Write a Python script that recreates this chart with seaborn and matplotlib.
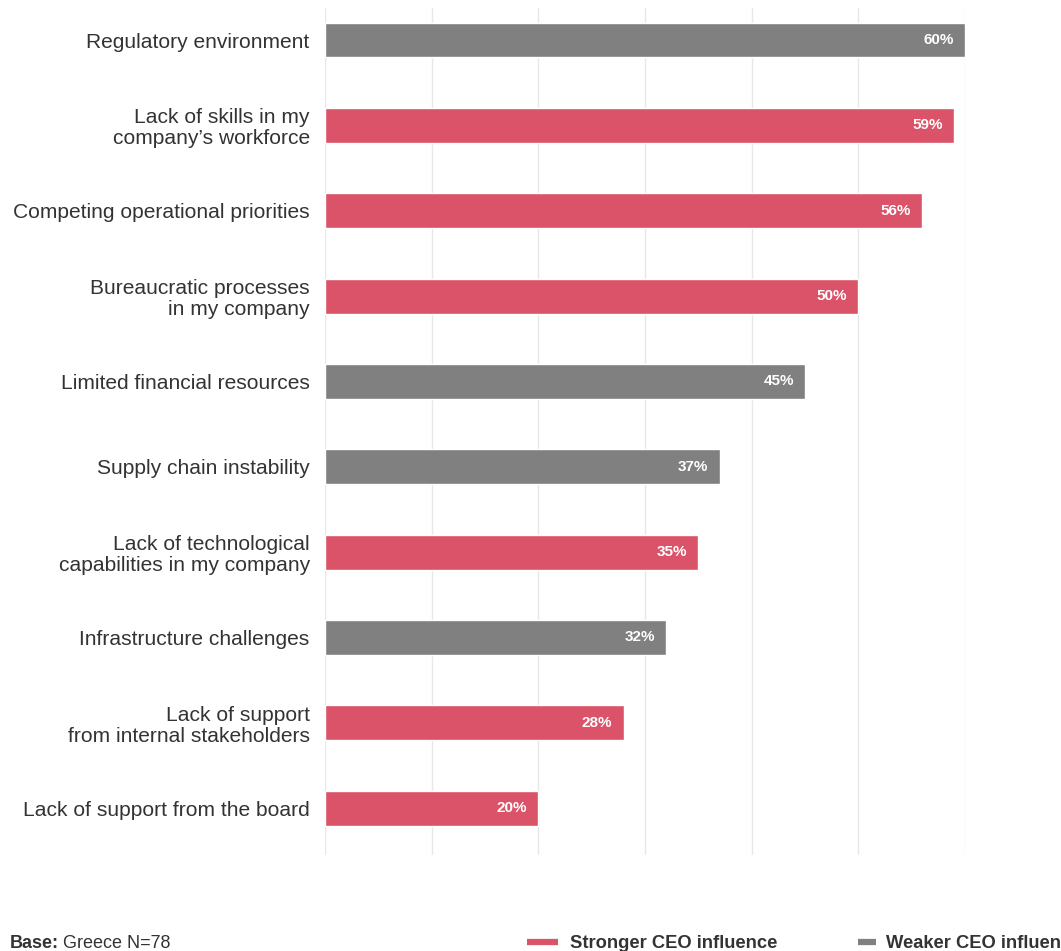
import matplotlib
matplotlib.use("Agg")
import matplotlib.pyplot as plt
import seaborn as sns
import pandas as pd
from matplotlib.lines import Line2D

categories = [
    "Regulatory environment",
    "Lack of skills in my\ncompany\u2019s workforce",
    "Competing operational priorities",
    "Bureaucratic processes\nin my company",
    "Limited financial resources",
    "Supply chain instability",
    "Lack of technological\ncapabilities in my company",
    "Infrastructure challenges",
    "Lack of support\nfrom internal stakeholders",
    "Lack of support from the board",
]
values = [60, 59, 56, 50, 45, 37, 35, 32, 28, 20]
influence = ["Weaker", "Stronger", "Stronger", "Stronger", "Weaker",
             "Weaker", "Stronger", "Weaker", "Stronger", "Stronger"]
legend_labels = ["Stronger CEO influence", "Weaker CEO influence"]

RED = "#DB5369"
GREY = "#808080"
TEXT = "#333333"

sns.set_theme(style="white")
plt.rcParams["font.family"] = ["Liberation Sans", "DejaVu Sans"]

df = pd.DataFrame({"category": categories, "value": values, "influence": influence})

W, H = 1061, 951
fig = plt.figure(figsize=(W / 100, H / 100), dpi=100)
ax = fig.add_axes([325 / W, 1 - 855 / H, (965 - 325) / W, (855 - 8) / H])

sns.barplot(data=df, y="category", x="value", hue="influence", dodge=False,
            palette={"Stronger": RED, "Weaker": GREY}, width=0.41,
            order=categories, hue_order=["Stronger", "Weaker"],
            legend=False, ax=ax, saturation=1)

ax.set_xlim(0, 60)
ax.set_ylim(9.55, -0.375)
ax.set_xticks(range(0, 61, 10))
ax.xaxis.grid(True, color="#E8E8E8", linewidth=1.0)
ax.set_axisbelow(True)
for s in ax.spines.values():
    s.set_visible(False)
ax.tick_params(axis="x", labelbottom=False, length=0)
ax.tick_params(axis="y", length=0, pad=11)
ax.set_xlabel("")
ax.set_ylabel("")
for lbl in ax.get_yticklabels():
    lbl.set_fontsize(15.1)
    lbl.set_color(TEXT)
    lbl.set_horizontalalignment("right")
    lbl.set_multialignment("right")
    lbl.set_linespacing(1.12)

for i, v in enumerate(values):
    ax.text(v - 1.05, i, f"{v}%", ha="right", va="center", color="white",
            fontsize=11, fontweight="bold")

# footer: base note and legend
fig.text(10 / W, 1 - 943 / H, "Base:", fontsize=13, fontweight="bold",
         color=TEXT, va="center", ha="left")
fig.text(63 / W, 1 - 943 / H, "Greece N=78", fontsize=13,
         color=TEXT, va="center", ha="left")

for (x0, x1, tx), col, lab in zip([(527, 558, 570), (858, 876, 886)],
                                  [RED, GREY], legend_labels):
    fig.add_artist(Line2D([x0 / W, x1 / W], [1 - 942 / H, 1 - 942 / H],
                          color=col, linewidth=4.5, solid_capstyle="butt",
                          transform=fig.transFigure))
    fig.text(tx / W, 1 - 943 / H, lab, fontsize=13.2, fontweight="bold",
             color=TEXT, va="center", ha="left")

fig.savefig("out.png", dpi=100)
